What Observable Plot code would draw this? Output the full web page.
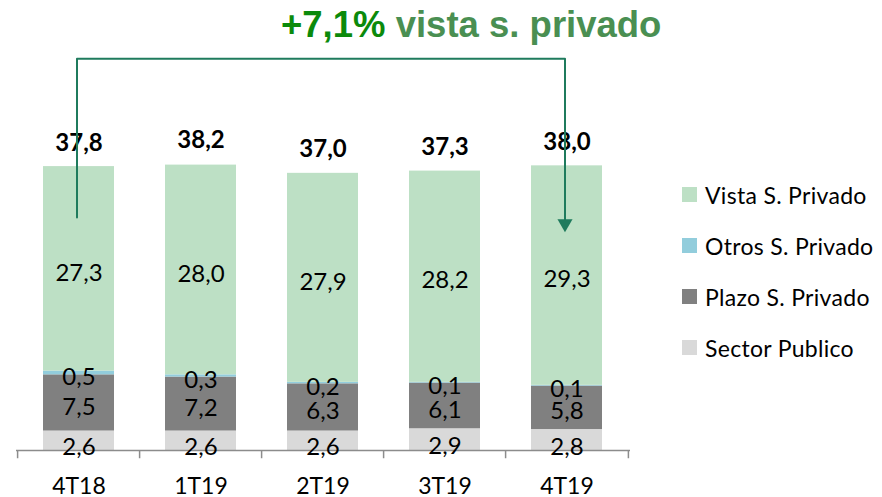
<!DOCTYPE html>
<html><head><meta charset="utf-8">
<script src="https://cdn.jsdelivr.net/npm/d3@7"></script>
<script src="https://cdn.jsdelivr.net/npm/@observablehq/plot@0.6"></script>
<style>
body{margin:0;background:#fff}
#wrap{position:relative;width:882px;height:497px;font-family:Lato,sans-serif;overflow:hidden}
#title{position:absolute;left:281px;top:4px;font-family:"Liberation Sans",Arial,sans-serif;font-weight:bold;font-size:36.5px;line-height:42px;white-space:nowrap}
#title .pct{color:#0b8a0b}
#title .rest{color:#4a8f52}
#legend{position:absolute;left:682px;top:169px;font-family:Lato,sans-serif;font-size:23px;letter-spacing:0.3px;color:#000}
.item{display:flex;align-items:center;height:51px}
.sw{width:15px;height:15px;margin-right:8px}
</style></head>
<body>
<div id="wrap">
<div id="chart"></div>
<div id="title"><span class="pct">+7,1%</span> <span class="rest">vista s. privado</span></div>
<div id="legend"></div>
</div>
<script>
const categories = ["4T18","1T19","2T19","3T19","4T19"];
const seriesNames = ["Sector Publico","Plazo S. Privado","Otros S. Privado","Vista S. Privado"];
const seriesColors = ["#d9d9d9","#808080","#92cddc","#bde0c5"];
const sectorPublico = [2.6,2.6,2.6,2.9,2.8];
const plazoPrivado = [7.5,7.2,6.3,6.1,5.8];
const otrosPrivado = [0.5,0.3,0.2,0.1,0.1];
const vistaPrivado = [27.3,28.0,27.9,28.2,29.3];
const totals = [37.8,38.2,37.0,37.3,38.0];
const bracketY = {start:31.1, top:52.3, end:30.3};

const seriesValues = [sectorPublico, plazoPrivado, otrosPrivado, vistaPrivado];
const rows = [];
seriesNames.forEach((s,i)=>categories.forEach((c,j)=>rows.push({cat:c, series:s, value:seriesValues[i][j]})));
const totalRows = categories.map((c,j)=>({cat:c, total:totals[j]}));
const fmt = v => v.toFixed(1).replace(".", ",");
const step = (882-16-252)/categories.length;

const bracket = [
  {cat:categories[0], y:bracketY.start},
  {cat:categories[0], y:bracketY.top},
  {cat:categories[categories.length-1], y:bracketY.top},
  {cat:categories[categories.length-1], y:bracketY.end}
];

const chart = Plot.plot({
  width:882, height:497,
  marginLeft:16, marginRight:252, marginTop:38, marginBottom:47,
  x:{domain:categories, paddingInner:0.415, paddingOuter:0.2075, axis:null},
  y:{domain:[0,55], axis:null},
  color:{domain:seriesNames, range:seriesColors},
  style:{fontFamily:"Lato, sans-serif", fontSize:"24px", overflow:"visible", background:"transparent"},
  marks:[
    Plot.barY(rows, {x:"cat", y:"value", z:"series", fill:"series", order:seriesNames}),
    Plot.ruleY([0], {stroke:"#8c8c8c", strokeWidth:1.5}),
    Plot.ruleX(categories, {x:d=>d, y1:0, y2:-1.1, dx:-step/2, stroke:"#8c8c8c", strokeWidth:1.5}),
    Plot.ruleX(categories.slice(-1), {x:d=>d, y1:0, y2:-1.1, dx:step/2, stroke:"#8c8c8c", strokeWidth:1.5}),
    Plot.text(categories, {x:d=>d, y:0, dy:36, text:d=>d, fill:"#000", fontSize:23}),
    Plot.textY(rows, Plot.stackY({x:"cat", y:"value", z:"series", order:seriesNames,
      text:d=>d.series==="Sector Publico"?null:fmt(d.value), dy:4, fill:"#000"})),
    Plot.textY(rows.filter(d=>d.series==="Sector Publico"), Plot.stackY({x:"cat", y:"value",
      text:d=>fmt(d.value), dy:7, fill:"#000"})),
    Plot.text(totalRows, {x:"cat", y:"total", dy:-24, text:d=>fmt(d.total), fontWeight:"bold", fill:"#000"}),
    Plot.line(bracket, {x:"cat", y:"y", dx:-2, stroke:"#1f7b5d", strokeWidth:2, curve:"linear"}),
    Plot.dot(bracket.slice(-1), {x:"cat", y:"y", dx:-2, symbol:"triangle", rotate:180, r:5.6, fill:"#1f7b5d", stroke:"none"})
  ]
});
document.getElementById("chart").appendChild(chart);

const legend = document.getElementById("legend");
[...seriesNames].reverse().forEach(name=>{
  const i = seriesNames.indexOf(name);
  const it = document.createElement("div"); it.className="item";
  const sw = document.createElement("div"); sw.className="sw"; sw.style.background=seriesColors[i];
  const tx = document.createElement("span"); tx.textContent=name;
  it.appendChild(sw); it.appendChild(tx); legend.appendChild(it);
});
</script>
</body></html>
